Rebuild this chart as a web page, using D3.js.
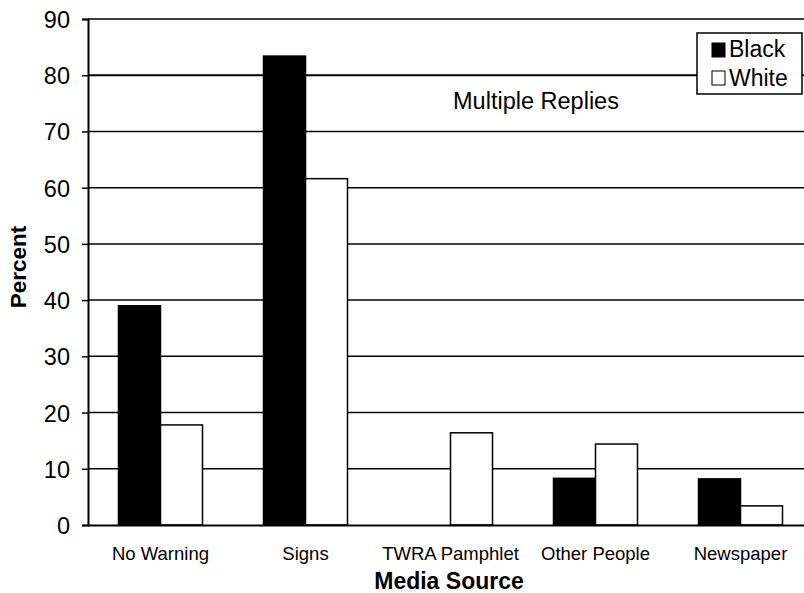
<!DOCTYPE html>
<html><head><meta charset="utf-8">
<script src="https://cdn.jsdelivr.net/npm/d3@7"></script>
<style>body{margin:0;background:#fff}svg{display:block;font-family:"Liberation Sans",Arial,sans-serif}</style>
</head><body><svg id="c" width="804" height="593"></svg>
<script>
const categories = ["No Warning","Signs","TWRA Pamphlet","Other People","Newspaper"];
const seriesNames = ["Black","White"];
const blackValues = [39.0, 83.4, 0, 8.3, 8.2];
const whiteValues = [17.8, 61.6, 16.4, 14.4, 3.4];
const yTicks = [0,10,20,30,40,50,60,70,80,90];

const svg = d3.select("#c");
const L = 88, R = 813, T = 19, B = 525;
const x = d3.scaleBand().domain(categories).range([L, R]).paddingInner(0).paddingOuter(0);
const x1 = d3.scaleBand().domain(seriesNames).range([0, 84]);
const y = d3.scaleLinear().domain([0, 90]).range([B, T]);

// gridlines
svg.append("g").selectAll("line").data(yTicks.filter(d=>d>0)).join("line")
  .attr("x1", L).attr("x2", 804).attr("y1", d=>y(d)).attr("y2", d=>y(d))
  .attr("stroke", "#000").attr("stroke-width", d=>d===80?2:1.5);

// bars
const data = categories.map((c,i)=>({c, vals:[{s:"Black",v:blackValues[i]},{s:"White",v:whiteValues[i]}]}));
const g = svg.append("g").selectAll("g").data(data).join("g")
  .attr("transform", d=>`translate(${x(d.c)+x.bandwidth()/2-42},0)`);
g.selectAll("rect").data(d=>d.vals.filter(e=>e.v>0)).join("rect")
  .attr("x", d=>x1(d.s)).attr("width", x1.bandwidth())
  .attr("y", d=>y(d.v)).attr("height", d=>y(0)-y(d.v))
  .attr("fill", d=>d.s==="Black"?"#000":"#fff")
  .attr("stroke","#000").attr("stroke-width",1.5);

// axes
const ya = d3.axisLeft(y).tickValues(yTicks).tickSize(6).tickPadding(12).tickFormat(d3.format("d"));
const yg = svg.append("g").attr("transform",`translate(${L},0)`).call(ya);
yg.select(".domain").attr("stroke-width",2);
yg.selectAll("line").attr("stroke-width",1.5);
yg.selectAll("text").attr("font-size",23.5).attr("fill","#000").attr("dy","0.36em");

const xa = d3.axisBottom(x).tickSize(0).tickPadding(21);
const xg = svg.append("g").attr("transform",`translate(0,${B})`).call(xa);
xg.select(".domain").attr("d",`M${L},0.5H804`).attr("stroke-width",2);
xg.selectAll("text").attr("font-size",18.5).attr("fill","#000").attr("dy",0).attr("y",35);

// axis titles
svg.append("text").attr("transform","translate(26,267) rotate(-90)").attr("text-anchor","middle")
  .attr("font-size",22.5).attr("font-weight","bold").text("Percent");
svg.append("text").attr("x",449).attr("y",589).attr("text-anchor","middle")
  .attr("font-size",23).attr("font-weight","bold").text("Media Source");

svg.append("text").attr("x",536).attr("y",109).attr("text-anchor","middle")
  .attr("font-size",23.5).text("Multiple Replies");

// legend
const lg = svg.append("g");
lg.append("rect").attr("x",697).attr("y",33).attr("width",105).attr("height",61)
  .attr("fill","#fff").attr("stroke","#000").attr("stroke-width",1.5);
seriesNames.forEach((s,i)=>{
  lg.append("rect").attr("x",712).attr("y",43+i*28).attr("width",13).attr("height",14)
    .attr("fill", s==="Black"?"#000":"#fff").attr("stroke","#000").attr("stroke-width",1);
  lg.append("text").attr("x",729).attr("y",57+i*28.5).attr("font-size",23).text(s);
});
</script></body></html>
